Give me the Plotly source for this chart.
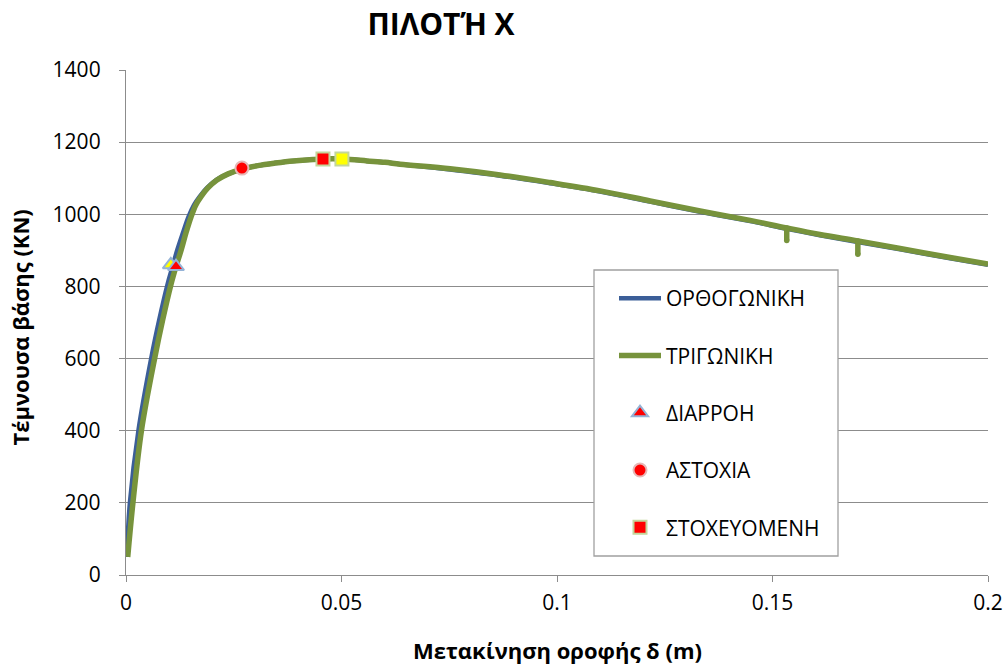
import plotly.graph_objects as go

# ---- data ----
orth_x = [0.0002, 0.0009, 0.0029, 0.0059, 0.0077, 0.0096, 0.0108, 0.0119, 0.0132, 0.0145,
          0.0158, 0.0171, 0.0188, 0.0209, 0.0237, 0.0271, 0.0306, 0.0346, 0.0388, 0.0434,
          0.0480, 0.0520, 0.0559, 0.0601, 0.0636, 0.0752, 0.0868, 0.0984, 0.1100, 0.1216,
          0.1332, 0.1448, 0.1533, 0.1610, 0.1698, 0.1796, 0.1912, 0.2000]
orth_y = [50, 200, 402, 604, 707, 804, 855, 901, 948, 993,
          1026, 1049, 1073, 1095, 1112, 1126, 1135, 1142, 1148, 1152,
          1154, 1152, 1148, 1144, 1139, 1124, 1107, 1086, 1063, 1035,
          1007, 981, 960, 942, 923, 903, 878, 860]

tri_x = [0.0004, 0.0016, 0.0036, 0.0067, 0.0085, 0.0104, 0.0116, 0.0128, 0.0139, 0.0151,
         0.0162, 0.0174, 0.0190, 0.0211, 0.0237, 0.0271, 0.0306, 0.0346, 0.0388, 0.0434,
         0.0480, 0.0520, 0.0559, 0.0601, 0.0636, 0.0752, 0.0868, 0.0984, 0.1100, 0.1216,
         0.1332, 0.1448, 0.1533, 0.1610, 0.1698, 0.1796, 0.1912, 0.2000]
tri_y = [50, 200, 402, 604, 707, 804, 855, 901, 948, 993,
         1026, 1049, 1073, 1095, 1112, 1126, 1135, 1142, 1148, 1152,
         1154, 1152, 1148, 1144, 1139, 1126, 1109, 1088, 1065, 1037,
         1009, 983, 962, 944, 926, 905, 880, 862]

# short downward spikes in the ΤΡΙΓΩΝΙΚΗ curve
dip_x = [0.1533, 0.1533, None, 0.1698, 0.1698]
dip_y = [962, 927, None, 926, 889]

yield_x = [0.0116]
yield_y = [855]
yield2_x = [0.0104]
yield2_y = [860]
fail_x = [0.0269]
fail_y = [1128]
target_x = [0.0457]
target_y = [1153]
target2_x = [0.0501]
target2_y = [1153]

x_ticks = [0, 0.05, 0.1, 0.15, 0.2]
x_tick_text = ["0", "0.05", "0.1", "0.15", "0.2"]
y_ticks = [0, 200, 400, 600, 800, 1000, 1200, 1400]

FONT = "Open Sans"
GRID = "#8c8c8c"
GREEN = "#77933C"

fig = go.Figure()
fig.add_trace(go.Scatter(x=orth_x, y=orth_y, mode="lines", name="ΟΡΘΟΓΩΝΙΚΗ",
                         legendgroup="a",
                         line=dict(color="#3B5E98", width=4.5, shape="spline", smoothing=1)))
fig.add_trace(go.Scatter(x=tri_x, y=tri_y, mode="lines", name="ΤΡΙΓΩΝΙΚΗ",
                         legendgroup="b",
                         line=dict(color=GREEN, width=5.5, shape="spline", smoothing=1)))
fig.add_trace(go.Scatter(x=dip_x, y=dip_y, mode="lines+markers", showlegend=False,
                         legendgroup="b", connectgaps=False,
                         line=dict(color=GREEN, width=5.5),
                         marker=dict(color=GREEN, size=5.5, line=dict(width=0))))
fig.add_trace(go.Scatter(x=yield2_x, y=yield2_y, mode="markers", showlegend=False,
                         marker=dict(symbol="triangle-up", size=14, color="#FFFF00",
                                     line=dict(color="#95B3D7", width=2))))
fig.add_trace(go.Scatter(x=yield_x, y=yield_y, mode="markers", name="ΔΙΑΡΡΟΗ",
                         legendgroup="c",
                         marker=dict(symbol="triangle-up", size=14, color="#FF0000",
                                     line=dict(color="#95B3D7", width=2))))
fig.add_trace(go.Scatter(x=fail_x, y=fail_y, mode="markers", name="ΑΣΤΟΧΙΑ",
                         legendgroup="d",
                         marker=dict(symbol="circle", size=13, color="#FF0000",
                                     line=dict(color="#E6B9B8", width=2))))
fig.add_trace(go.Scatter(x=target2_x, y=target2_y, mode="markers", showlegend=False,
                         marker=dict(symbol="square", size=13, color="#FFFF00",
                                     line=dict(color="#C3D69B", width=2))))
fig.add_trace(go.Scatter(x=target_x, y=target_y, mode="markers", name="ΣΤΟΧΕΥΟΜΕΝΗ",
                         legendgroup="e",
                         marker=dict(symbol="square", size=13, color="#FF0000",
                                     line=dict(color="#C3D69B", width=2))))

fig.update_layout(
    width=1008, height=670,
    margin=dict(l=126, r=20, t=70, b=95),
    paper_bgcolor="white", plot_bgcolor="white",
    font=dict(family=FONT, color="black"),
    title=dict(text="<b>ΠΙΛΟΤΉ X</b>", font=dict(family=FONT, size=30, color="black"),
               xref="container", x=0.4375, xanchor="center",
               yref="container", y=1 - 24 / 670, yanchor="middle"),
    xaxis=dict(range=[0, 0.2], tickvals=x_ticks, ticktext=x_tick_text, automargin=False,
               showgrid=False, zeroline=False, showline=True, linecolor=GRID, linewidth=1.3,
               ticks="outside", ticklen=6, tickcolor=GRID, tickwidth=1.3,
               tickfont=dict(family=FONT, size=21, color="black"),
               ticklabelstandoff=3),
    yaxis=dict(range=[0, 1400], tickvals=y_ticks, automargin=False,
               showgrid=True, gridcolor=GRID, gridwidth=1.3, zeroline=False,
               showline=True, linecolor=GRID, linewidth=1.3,
               ticks="outside", ticklen=6, tickcolor=GRID, tickwidth=1.3,
               tickfont=dict(family=FONT, size=21, color="black"),
               ticklabelstandoff=14),
    legend=dict(x=(614 - 126) / 862, y=(575 - 278) / 505, xanchor="left", yanchor="top",
                bgcolor="rgba(0,0,0,0)", borderwidth=0,
                font=dict(family=FONT, size=21, color="black"),
                tracegroupgap=27, itemwidth=42),
    shapes=[dict(type="rect", xref="paper", yref="paper",
                 x0=(594 - 126) / 862, x1=(838 - 126) / 862,
                 y0=(575 - 556) / 505, y1=(575 - 270) / 505,
                 fillcolor="white", line=dict(color="#a0a0a0", width=1.3), layer="above")],
    annotations=[
        dict(text="<b>Μετακίνηση οροφής δ (m)</b>", xref="paper", yref="paper",
             x=0.5, y=-(650 - 575) / 505, xanchor="center", yanchor="middle",
             showarrow=False, font=dict(family=FONT, size=22, color="black")),
        dict(text="<b>Τέμνουσα βάσης (KN)</b>", xref="paper", yref="paper",
             x=(20 - 126) / 862, y=0.49, xanchor="center", yanchor="middle",
             textangle=-90, showarrow=False, font=dict(family=FONT, size=22, color="black")),
    ],
)

fig.write_html("out.html")
